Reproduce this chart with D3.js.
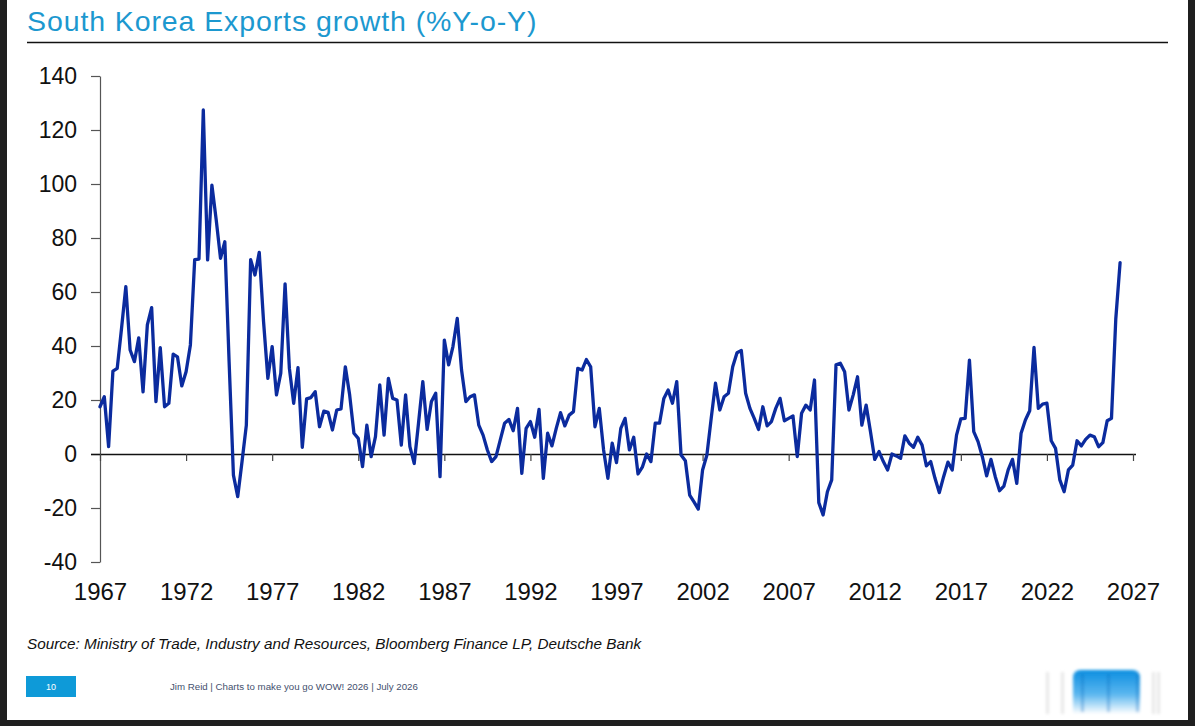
<!DOCTYPE html>
<html>
<head>
<meta charset="utf-8">
<script src="https://cdn.jsdelivr.net/npm/d3@7"></script>
<style>
  html, body { margin: 0; padding: 0; background: #1f1f1f; }
  #chart { width: 1195px; height: 726px; }
</style>
</head>
<body>
<div id="chart"></div>
<script>
// quarterly exports growth, %Y-o-Y, first value is 1967 Q1
const startYear = 1967;
const exports1967to1981 = [
  17.5, 21.2, 2.7, 30.7, 31.7, 46.5, 62, 38.5, 34.2, 43,
  23, 47.8, 54.2, 19.4, 39.4, 17.5, 18.8, 37, 36, 25.2,
  30.5, 40.4, 72, 72.2, 127.4, 71.9, 99.6, 86.7, 72.5, 78.6,
  34, -7.8, -15.8, -2.8, 10.7, 72, 66.3, 74.7, 49, 28,
  39.8, 21.9, 29.9, 63, 31.7, 18.8, 32, 2.5, 20.4, 20.9,
  23.1, 10.1, 15.9, 15.4, 8.9, 16.3, 16.7, 32.3, 21.9, 7.7
];
const exports1982to1996 = [
  5.8, -4.7, 10.7, -1, 6.4, 25.6, 7, 28, 20.6, 20,
  3.3, 21.9, 2.7, -3.5, 11.4, 26.8, 9.1, 19.4, 22.5, -8.4,
  42.2, 33, 39.8, 50.2, 31.1, 19.4, 21.2, 21.9, 10.7, 7,
  1.5, -2.8, -1, 5.2, 11.4, 12.8, 8.6, 16.9, -7.2, 9.5,
  12, 6.2, 16.5, -9, 7.7, 3, 9.5, 15.3, 10.4, 14.4,
  15.7, 31.7, 31.1, 35, 32.3, 10.1, 16.9, 1.5, -9
];
const exports1996to2011 = [
  4, -3.2, 9.5, 13.2, 1.5, 6.2, -7.4, -4.9, 0, -2.8,
  11.4, 11.4, 20.6, 23.7, 18.8, 26.8, -0.4, -2.5, -15.2, -17.7,
  -20.4, -5.9, -0.4, 13.2, 26.2, 16.3, 21.2, 22.5, 32.3, 37.5,
  38.3, 22.5, 16.9, 13.2, 9.1, 17.5, 10.4, 12, 16.9, 20.6,
  12.3, 13.2, 14.1, -1, 15.1, 18.1, 16.3, 27.4, -18, -22.6,
  -14, -9.6, 33, 33.6, 30.5, 16.3, 21.9, 28.6
];
const exports2011to2026 = [
  10.7, 18.1, 8.3, -2, 0.9, -2.8, -5.9, 0, -0.7, -1.6,
  6.7, 4, 2.5, 6.2, 3.3, -4.4, -2.8, -9, -14.3, -8.4,
  -3, -5.9, 7, 13, 13.2, 34.8, 8.3, 4.6, -1, -8.1,
  -2, -8.4, -13.6, -11.9, -5.9, -2, -10.9, 7.7, 12.6, 16,
  39.5, 16.9, 18.5, 18.8, 4.9, 2.1, -9.6, -14, -5.9, -4.1,
  4.9, 3, 5.4, 7, 6.4, 2.7, 4.2, 12.3, 13.2, 50, 70.9
];

const xTicks = [1967, 1972, 1977, 1982, 1987, 1992, 1997, 2002, 2007, 2012, 2017, 2022, 2027];
const yTicks = [-40, -20, 0, 20, 40, 60, 80, 100, 120, 140];

const titleText = "South Korea Exports growth (%Y-o-Y)";
const sourceText = "Source: Ministry of Trade, Industry and Resources, Bloomberg Finance LP, Deutsche Bank";
const footerText = "Jim Reid | Charts to make you go WOW! 2026  | July 2026";
const pageNumber = "10";

const W = 1195, H = 726;
const font = "'Liberation Sans', Arial, sans-serif";

const values = exports1967to1981.concat(exports1982to1996, exports1996to2011, exports2011to2026);
const series = values.map((v, i) => ({ year: startYear + i / 4, value: v }));

const svg = d3.select("#chart").append("svg")
  .attr("width", W)
  .attr("height", H)
  .style("display", "block");

// dark frame round the white page
svg.append("rect").attr("width", W).attr("height", H).attr("fill", "#1f1f1f");
svg.append("rect").attr("x", 7).attr("y", 0).attr("width", 1181).attr("height", 720).attr("fill", "#fff");

// title and rule
svg.append("text")
  .attr("x", 27).attr("y", 31)
  .attr("fill", "#1c98cf")
  .style("font-family", font)
  .style("font-size", "28.5px")
  .style("letter-spacing", "0.9px")
  .text(titleText);

svg.append("line")
  .attr("x1", 27).attr("x2", 1168)
  .attr("y1", 42.5).attr("y2", 42.5)
  .attr("stroke", "#111").attr("stroke-width", 1.6);

const x = d3.scaleLinear().domain([1967, 2027]).range([100, 1133]);
const y = d3.scaleLinear().domain([-40, 140]).range([562, 76]);

// y axis (plain hyphen for negatives, as in the original)
const yAxis = svg.append("g")
  .attr("transform", "translate(100,0)")
  .call(d3.axisLeft(y).tickValues(yTicks).tickSize(9).tickSizeOuter(0).tickPadding(14)
    .tickFormat(d => String(d)));
yAxis.select(".domain").attr("stroke", "#555").attr("stroke-width", 1.2);
yAxis.selectAll(".tick line").attr("stroke", "#555").attr("stroke-width", 1.2);
yAxis.selectAll(".tick text")
  .attr("fill", "#111")
  .style("font-family", font)
  .style("font-size", "23px");

// zero line with year ticks
const zeroAxis = svg.append("g")
  .attr("transform", `translate(0,${y(0)})`)
  .call(d3.axisBottom(x).tickValues(xTicks).tickSize(7).tickSizeOuter(0).tickFormat(""));
zeroAxis.select(".domain").attr("stroke", "#111").attr("stroke-width", 1.4)
  .attr("d", `M91,0.5H${x(2027) + 3}`);
zeroAxis.selectAll(".tick line").attr("stroke", "#444").attr("stroke-width", 1.2);

// year labels along the bottom
const labelAxis = svg.append("g")
  .attr("transform", "translate(0,574)")
  .call(d3.axisBottom(x).tickValues(xTicks).tickSize(0).tickFormat(d => String(d)).tickPadding(9));
labelAxis.select(".domain").remove();
labelAxis.selectAll(".tick text")
  .attr("fill", "#111")
  .style("font-family", font)
  .style("font-size", "24px");

// the series
const line = d3.line()
  .x(d => x(d.year))
  .y(d => y(d.value));

svg.append("path")
  .datum(series)
  .attr("d", line)
  .attr("fill", "none")
  .attr("stroke", "#0b2b9e")
  .attr("stroke-width", 3.3)
  .attr("stroke-linejoin", "round")
  .attr("stroke-linecap", "round");

// source note
svg.append("text")
  .attr("x", 27).attr("y", 649)
  .attr("fill", "#111")
  .style("font-family", font)
  .style("font-style", "italic")
  .style("font-size", "15.3px")
  .text(sourceText);

// footer: page box, caption, logo
svg.append("rect")
  .attr("x", 26).attr("y", 676).attr("width", 50).attr("height", 21)
  .attr("fill", "#0e9ad8");
svg.append("text")
  .attr("x", 51).attr("y", 689.5)
  .attr("text-anchor", "middle")
  .attr("fill", "#fff")
  .style("font-family", font)
  .style("font-size", "9px")
  .text(pageNumber);

svg.append("text")
  .attr("x", 170).attr("y", 690)
  .attr("fill", "#44506e")
  .style("font-family", font)
  .style("font-size", "9.7px")
  .text(footerText);

const defs = svg.append("defs");
const grad = defs.append("linearGradient")
  .attr("id", "logoGrad").attr("x1", 0).attr("y1", 0).attr("x2", 0).attr("y2", 1);
grad.append("stop").attr("offset", "0%").attr("stop-color", "#0c8ee0");
grad.append("stop").attr("offset", "55%").attr("stop-color", "#5ab6ef");
grad.append("stop").attr("offset", "100%").attr("stop-color", "#ffffff");

const blur = defs.append("filter").attr("id", "soft");
blur.append("feGaussianBlur").attr("stdDeviation", 1.5);

const logo = svg.append("g").attr("filter", "url(#soft)");
[1046, 1061, 1152, 1157].forEach(px => {
  logo.append("rect")
    .attr("x", px).attr("y", 672).attr("width", 3).attr("height", 42)
    .attr("fill", "#d8d8d8").attr("opacity", 0.6);
});
logo.append("path")
  .attr("d", "M1073,714V678Q1073,670 1081,670H1132Q1140,670 1140,678V714Z")
  .attr("fill", "url(#logoGrad)");
[1081, 1107, 1136].forEach(px => {
  logo.append("rect")
    .attr("x", px).attr("y", 674).attr("width", 3).attr("height", 38)
    .attr("fill", "#0a6cc0").attr("opacity", 0.35);
});
</script>
</body>
</html>
